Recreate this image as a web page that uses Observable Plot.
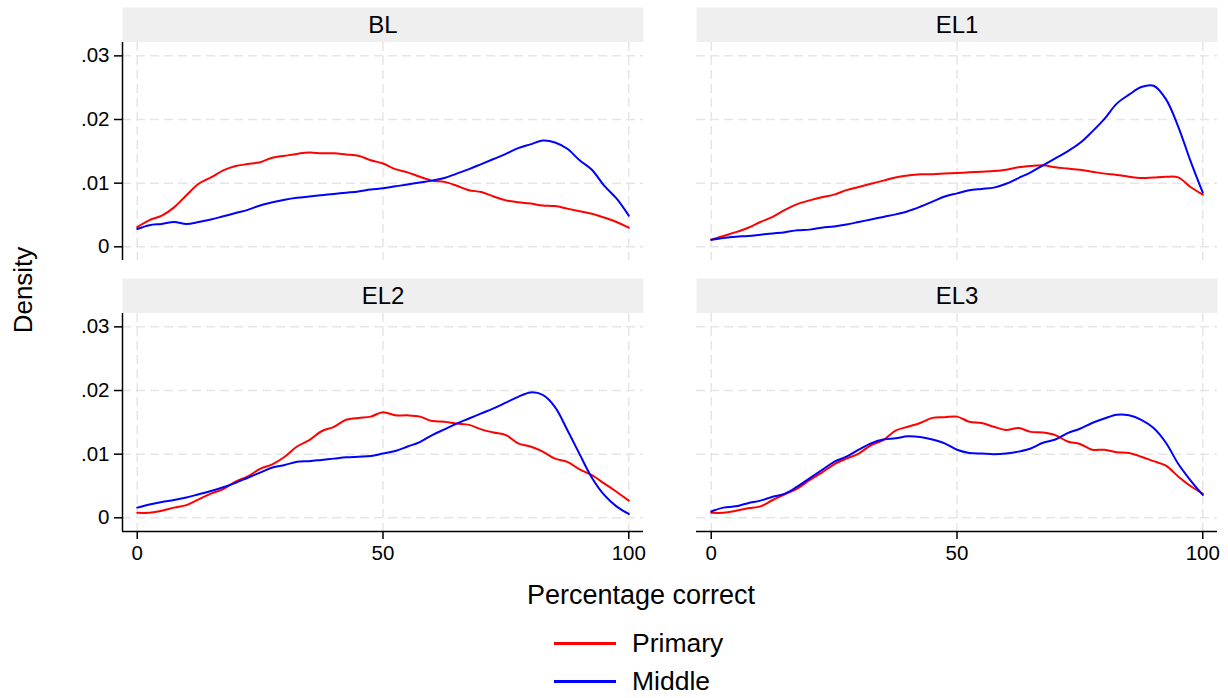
<!DOCTYPE html>
<html>
<head>
<meta charset="utf-8">
<script src="https://cdn.jsdelivr.net/npm/d3@7"></script>
<script src="https://cdn.jsdelivr.net/npm/@observablehq/plot@0.6"></script>
<style>
  body { margin: 0; background: #fff; font-family: "Liberation Sans", Arial, Helvetica, sans-serif; color: #000; }
  #wrap { position: relative; width: 1228px; height: 698px; overflow: hidden; }
  #chart { position: absolute; left: 0; top: 0; }
  .ytitle { position: absolute; left: -77px; top: 275px; width: 200px; height: 30px; line-height: 30px;
            text-align: center; font-size: 26px; transform: rotate(-90deg); transform-origin: 100px 15px; }
  .xtitle { position: absolute; left: 441px; top: 580px; width: 400px; height: 30px; line-height: 30px;
            text-align: center; font-size: 27px; }
  .leg-line { position: absolute; left: 554px; width: 62px; height: 2.5px; }
  .leg-text { position: absolute; left: 632px; height: 30px; line-height: 30px; font-size: 26.5px; }
</style>
</head>
<body>
<div id="wrap">
  <div id="chart"></div>
  <div class="ytitle">Density</div>
  <div class="xtitle">Percentage correct</div>
  <div id="legend"></div>
</div>
<script>
// ---- data ----
const panels = ["BL", "EL1", "EL2", "EL3"];
const panelCol = [0, 1, 0, 1];
const panelRow = [0, 0, 1, 1];
const groups = ["Primary", "Middle"];
const groupColors = ["#ff0000", "#0000ff"];
const xTicks = [0, 50, 100];
const yTicks = [0, 0.01, 0.02, 0.03];

const pct = [0, 2.5, 5, 7.5, 10, 12.5, 15, 17.5, 20, 22.5, 25, 27.5, 30, 32.5, 35, 37.5, 40, 42.5, 45, 47.5,
             50, 52.5, 55, 57.5, 60, 62.5, 65, 67.5, 70, 72.5, 75, 77.5, 80, 82.5, 85, 87.5, 90, 92.5, 95, 97.5, 100];

const blPrimary = [.0031, .0042, .0049, .0062, .0081, .0099, .0109, .0120, .0127, .0130, .0133, .0140, .0143, .0146, .0148, .0147, .0147, .0145, .0143, .0136,
                   .0131, .0122, .0117, .0110, .0104, .0102, .0096, .0089, .0086, .0079, .0073, .0070, .0068, .0065, .0064, .0060, .0056, .0052, .0046, .0039, .0030];
const blMiddle  = [.0028, .0034, .0036, .0039, .0036, .0039, .0043, .0048, .0053, .0058, .0065, .0070, .0074, .0077, .0079, .0081, .0083, .0085, .0087, .0090,
                   .0092, .0095, .0098, .0101, .0104, .0108, .0115, .0122, .0130, .0138, .0146, .0155, .0161, .0167, .0164, .0154, .0136, .0121, .0096, .0076, .0049];
const el1Primary = [.0011, .0017, .0023, .0030, .0039, .0047, .0058, .0067, .0073, .0078, .0082, .0089, .0094, .0099, .0104, .0109, .0112, .0114, .0114, .0115,
                    .0116, .0117, .0118, .0119, .0121, .0125, .0127, .0128, .0125, .0123, .0121, .0118, .0115, .0113, .0110, .0108, .0109, .0110, .0109, .0094, .0082];
const el1Middle  = [.0011, .0014, .0016, .0017, .0019, .0021, .0023, .0026, .0027, .0030, .0032, .0035, .0039, .0043, .0047, .0051, .0056, .0063, .0071, .0079,
                    .0084, .0089, .0091, .0093, .0099, .0108, .0117, .0128, .0139, .0150, .0163, .0181, .0201, .0225, .0239, .0251, .0253, .0232, .0189, .0135, .0085];
const el2Primary = [.0008, .0008, .0011, .0016, .0020, .0029, .0038, .0045, .0057, .0065, .0077, .0084, .0096, .0112, .0122, .0136, .0143, .0154, .0157, .0159,
                    .0166, .0161, .0161, .0159, .0152, .0151, .0148, .0146, .0139, .0134, .0130, .0117, .0112, .0104, .0093, .0088, .0076, .0067, .0054, .0041, .0027];
const el2Middle  = [.0016, .0021, .0025, .0028, .0032, .0037, .0042, .0048, .0055, .0063, .0071, .0079, .0083, .0088, .0089, .0091, .0093, .0095, .0096, .0097,
                    .0101, .0105, .0112, .0119, .0130, .0139, .0148, .0156, .0164, .0172, .0181, .0190, .0197, .0193, .0174, .0138, .0100, .0063, .0036, .0018, .0006];
const el3Primary = [.0008, .0008, .0011, .0015, .0018, .0028, .0037, .0046, .0059, .0071, .0084, .0093, .0101, .0114, .0122, .0137, .0143, .0149, .0157, .0158,
                    .0159, .0151, .0149, .0143, .0138, .0141, .0135, .0134, .0130, .0120, .0116, .0107, .0107, .0103, .0102, .0096, .0089, .0082, .0065, .0050, .0038];
const el3Middle  = [.0010, .0016, .0018, .0023, .0027, .0033, .0038, .0049, .0062, .0075, .0088, .0096, .0107, .0117, .0123, .0125, .0128, .0127, .0123, .0117,
                    .0107, .0102, .0101, .0100, .0101, .0104, .0109, .0118, .0123, .0133, .0140, .0149, .0156, .0162, .0161, .0154, .0141, .0118, .0085, .0059, .0036];

const seriesByPanel = [
  [blPrimary, blMiddle],
  [el1Primary, el1Middle],
  [el2Primary, el2Middle],
  [el3Primary, el3Middle]
];

// ---- tables for Plot ----
const panelTable = panels.map((name, i) => ({name, col: panelCol[i], row: panelRow[i]}));
const rows = [];
panels.forEach((name, p) => {
  groups.forEach((g, gi) => {
    seriesByPanel[p][gi].forEach((v, k) => {
      rows.push({panel: name, col: panelCol[p], row: panelRow[p], group: g, key: name + g, x: pct[k], y: v});
    });
  });
});

// ---- layout ----
const W = 1228, H = 570;
const mL = 122, mR = 11, mT = 42, mB = 38;
const gapX = 53, gapY = 53, stripH = 35;
const bandW = (W - mL - mR - gapX) / 2;
const bandH = (H - mT - mB - gapY) / 2;
const pIx = gapX / (bandW + gapX);
const pIy = gapY / (bandH + gapY);
const xDomain = [-3, 103];
const yDomain = [-0.00215, 0.0321];
const FONT = "'Liberation Sans', Arial, Helvetica, sans-serif";
const yFmt = d => d === 0 ? "0" : d3.format(".2f")(d).replace(/^0/, "");

const chart = Plot.plot({
  width: W, height: H,
  marginLeft: mL, marginRight: mR, marginTop: mT, marginBottom: mB,
  style: {fontFamily: FONT, fontSize: "20px", color: "#000", background: "transparent", overflow: "visible"},
  fx: {axis: null, paddingInner: pIx, paddingOuter: 0},
  fy: {axis: null, paddingInner: pIy, paddingOuter: 0},
  x: {domain: xDomain},
  y: {domain: yDomain},
  color: {domain: groups, range: groupColors},
  marks: [
    // facet strip headers
    Plot.frame({fill: "#efefef", stroke: "none", insetTop: -stripH, insetBottom: bandH}),
    Plot.text(panelTable, {fx: "col", fy: "row", text: "name", frameAnchor: "top", lineAnchor: "middle",
                           dy: -stripH / 2, fontSize: 24, fill: "#000"}),
    // grid
    Plot.gridY({ticks: yTicks, stroke: "#e6e6e6", strokeOpacity: 1, strokeWidth: 1.5, strokeDasharray: "9,5"}),
    Plot.gridX({ticks: xTicks, stroke: "#e6e6e6", strokeOpacity: 1, strokeWidth: 1.5, strokeDasharray: "9,5"}),
    // axes
    Plot.axisY({ticks: yTicks, tickFormat: yFmt, tickSize: 8, tickPadding: 5, fontSize: 20.5, label: null,
                facetAnchor: "left", strokeWidth: 1.5}),
    Plot.axisX({ticks: xTicks, tickSize: 8, tickPadding: 6, fontSize: 20.5, label: null,
                facetAnchor: "bottom", strokeWidth: 1.5}),
    Plot.ruleX([xDomain[0]], {facetAnchor: "left", stroke: "#000", strokeWidth: 1.5}),
    Plot.ruleY([yDomain[0]], {facetAnchor: "bottom", stroke: "#000", strokeWidth: 1.5}),
    // density curves
    Plot.line(rows, {fx: "col", fy: "row", x: "x", y: "y", z: "key", stroke: "group",
                     strokeWidth: 2, curve: "catmull-rom"})
  ]
});
document.getElementById("chart").appendChild(chart);

// ---- legend (below the chart) ----
const legend = document.getElementById("legend");
const legendLineY = [642, 680];
groups.forEach((g, i) => {
  const line = document.createElement("div");
  line.className = "leg-line";
  line.style.top = legendLineY[i] + "px";
  line.style.background = groupColors[i];
  legend.appendChild(line);
  const t = document.createElement("div");
  t.className = "leg-text";
  t.style.top = (legendLineY[i] - 14) + "px";
  t.textContent = g;
  legend.appendChild(t);
});
</script>
</body>
</html>
